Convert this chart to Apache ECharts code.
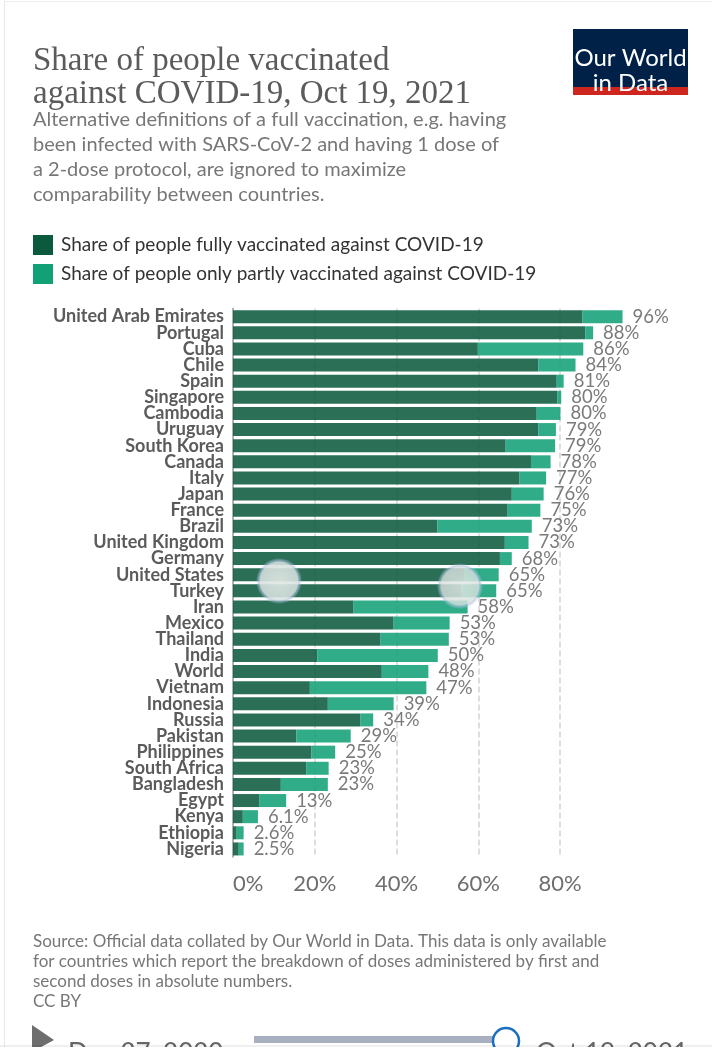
<!DOCTYPE html>
<html>
<head>
<meta charset="utf-8">
<style>html,body{margin:0;padding:0;background:#fff}#c{width:712px;height:1060px}</style>
<script src="https://cdn.jsdelivr.net/npm/echarts@6/dist/echarts.min.js"></script>
</head>
<body>
<div id="c"></div>
<script>
const categories = ["United Arab Emirates","Portugal","Cuba","Chile","Spain","Singapore","Cambodia","Uruguay","South Korea","Canada","Italy","Japan","France","Brazil","United Kingdom","Germany","United States","Turkey","Iran","Mexico","Thailand","India","World","Vietnam","Indonesia","Russia","Pakistan","Philippines","South Africa","Bangladesh","Egypt","Kenya","Ethiopia","Nigeria"];
const fullyVaccinated = [85.5,86.2,59.9,74.7,79.2,79.4,74.3,74.7,66.7,72.9,70.1,68.2,67.2,50.0,66.5,65.3,56.5,55.9,29.5,39.3,36.1,20.6,36.4,18.8,23.2,31.2,15.5,19.2,17.9,11.7,6.4,2.4,0.9,1.4];
const partlyVaccinated = [9.8,1.9,25.8,9.1,1.7,0.9,5.8,4.3,12.1,4.8,6.5,7.8,8.0,23.1,5.8,2.9,8.5,8.5,27.9,13.7,16.7,29.5,11.4,28.5,16.1,3.1,13.3,5.8,5.5,11.5,6.6,3.7,1.7,1.2];
const totalLabels = ["96%","88%","86%","84%","81%","80%","80%","79%","79%","78%","77%","76%","75%","73%","73%","68%","65%","65%","58%","53%","53%","50%","48%","47%","39%","34%","29%","25%","23%","23%","13%","6.1%","2.6%","2.5%"];
const seriesNames = ["Share of people fully vaccinated against COVID-19","Share of people only partly vaccinated against COVID-19"];
const titleLines = ["Share of people vaccinated","against COVID-19, Oct 19, 2021"];
const subtitleLines = ["Alternative definitions of a full vaccination, e.g. having","been infected with SARS-CoV-2 and having 1 dose of","a 2-dose protocol, are ignored to maximize","comparability between countries."];
const sourceLines = ["Source: Official data collated by Our World in Data. This data is only available","for countries which report the breakdown of doses administered by first and","second doses in absolute numbers.","CC BY"];

const darkColor = "#0b5a3e", lightColor = "#12a077";
const chart = echarts.init(document.getElementById("c"), null, {renderer:"canvas"});

const txt = (x,y,text,font,fill,extra) => Object.assign({type:"text",x,y,z:50,style:Object.assign({text,font,fill,textBaseline:"middle",textAlign:"left"},extra||{})});
const graphics = [
  {type:"rect",shape:{x:4,y:0,width:1,height:1047},style:{fill:"#e8e8e8"},z:1},
  {type:"rect",shape:{x:4,y:1,width:708,height:1},style:{fill:"#efefef"},z:1},
  {type:"rect",shape:{x:573,y:29,width:115,height:58},style:{fill:"#002147"},z:40},
  {type:"rect",shape:{x:573,y:87,width:115,height:8},style:{fill:"#ce261e"},z:40},
  txt(630.5,46,"Our World",'24px Lato',"#fff",{textAlign:"center"}),
  txt(630.5,71,"in Data",'24px Lato',"#fff",{textAlign:"center"}),
  // touch markers
  {type:"circle",shape:{cx:279,cy:581,r:23},z:60,style:{fill:{type:"radial",x:.5,y:.5,r:.5,colorStops:[{offset:0,color:"rgba(225,232,228,.92)"},{offset:.82,color:"rgba(215,225,222,.88)"},{offset:.88,color:"rgba(170,190,225,.65)"},{offset:1,color:"rgba(190,210,230,0)"}]}}},
  {type:"circle",shape:{cx:460,cy:586,r:23},z:60,style:{fill:{type:"radial",x:.5,y:.5,r:.5,colorStops:[{offset:0,color:"rgba(225,232,228,.85)"},{offset:.82,color:"rgba(215,225,222,.82)"},{offset:.88,color:"rgba(170,190,225,.65)"},{offset:1,color:"rgba(190,210,230,0)"}]}}},
  // timeline
  {type:"polygon",shape:{points:[[32,1025],[54,1040],[32,1052]]},style:{fill:"#6e6e6e"},z:50},
  txt(68,1041,"Dec 27, 2020",'26px Lato',"#666"),
  {type:"rect",shape:{x:254,y:1036,width:240,height:7},style:{fill:"#a8b0bf"},z:50},
  {type:"circle",shape:{cx:506,cy:1041,r:13},style:{fill:"#fff",stroke:"#1a6fc0",lineWidth:2.5},z:51},
  txt(536,1041,"Oct 19, 2021",'26px Lato',"#666"),
  {type:"rect",shape:{x:0,y:1047,width:712,height:13},style:{fill:"#fff"},z:70},
  {type:"rect",shape:{x:0,y:1045,width:712,height:2},style:{fill:"rgba(0,0,0,.06)"},z:70}
];
titleLines.forEach((t,i)=>graphics.push(txt(33,45+i*33,t,'33px "Liberation Serif"',"#5b5b5b")));
subtitleLines.forEach((t,i)=>graphics.push(txt(33,110+i*25,t,'20px Lato',"#777")));
sourceLines.forEach((t,i)=>graphics.push(txt(33,933+i*20,t,'17px Lato',"#777")));

chart.setOption({
  animation:false,
  backgroundColor:"#fff",
  legend:{
    show:true,left:33,top:235,orient:"vertical",align:"left",itemWidth:20,itemHeight:20,itemGap:9,icon:"rect",
    textStyle:{fontFamily:"Lato",fontSize:19,color:"#333",padding:[0,0,0,3]},
    padding:0,selectedMode:false,
    data:[
      {name:seriesNames[0],itemStyle:{color:darkColor,opacity:1}},
      {name:seriesNames[1],itemStyle:{color:lightColor,opacity:1}}
    ]
  },
  grid:{left:233,top:308.6,width:408.75,height:548.4,containLabel:false},
  xAxis:{
    type:"value",min:0,max:100,interval:20,
    axisLine:{show:false},axisTick:{show:false},
    splitLine:{show:true,showMinLine:false,showMaxLine:false,lineStyle:{color:"#d4d4d4",type:"dashed",width:1.5}},
    axisLabel:{formatter:"{value}%",fontFamily:"Lato",fontSize:22,color:"#6e6e6e",margin:16,showMaxLabel:false,alignMinLabel:"left"}
  },
  yAxis:{
    type:"category",inverse:true,data:categories,
    axisLine:{show:true,lineStyle:{color:"#999",width:1.5}},axisTick:{show:false},
    axisLabel:{fontFamily:"Lato",fontWeight:"bold",fontSize:18,color:"#5b5b5b",margin:9,interval:0}
  },
  series:[
    {name:seriesNames[0],type:"bar",stack:"total",barWidth:13,data:fullyVaccinated,itemStyle:{color:darkColor,opacity:.87}},
    {name:seriesNames[1],type:"bar",stack:"total",barWidth:13,data:partlyVaccinated,itemStyle:{color:lightColor,opacity:.87},
      label:{show:true,position:"right",distance:10,fontFamily:"Lato",fontSize:18.5,color:"#666",formatter:p=>totalLabels[p.dataIndex]}}
  ],
  graphic:{elements:graphics}
});
</script>
</body>
</html>
